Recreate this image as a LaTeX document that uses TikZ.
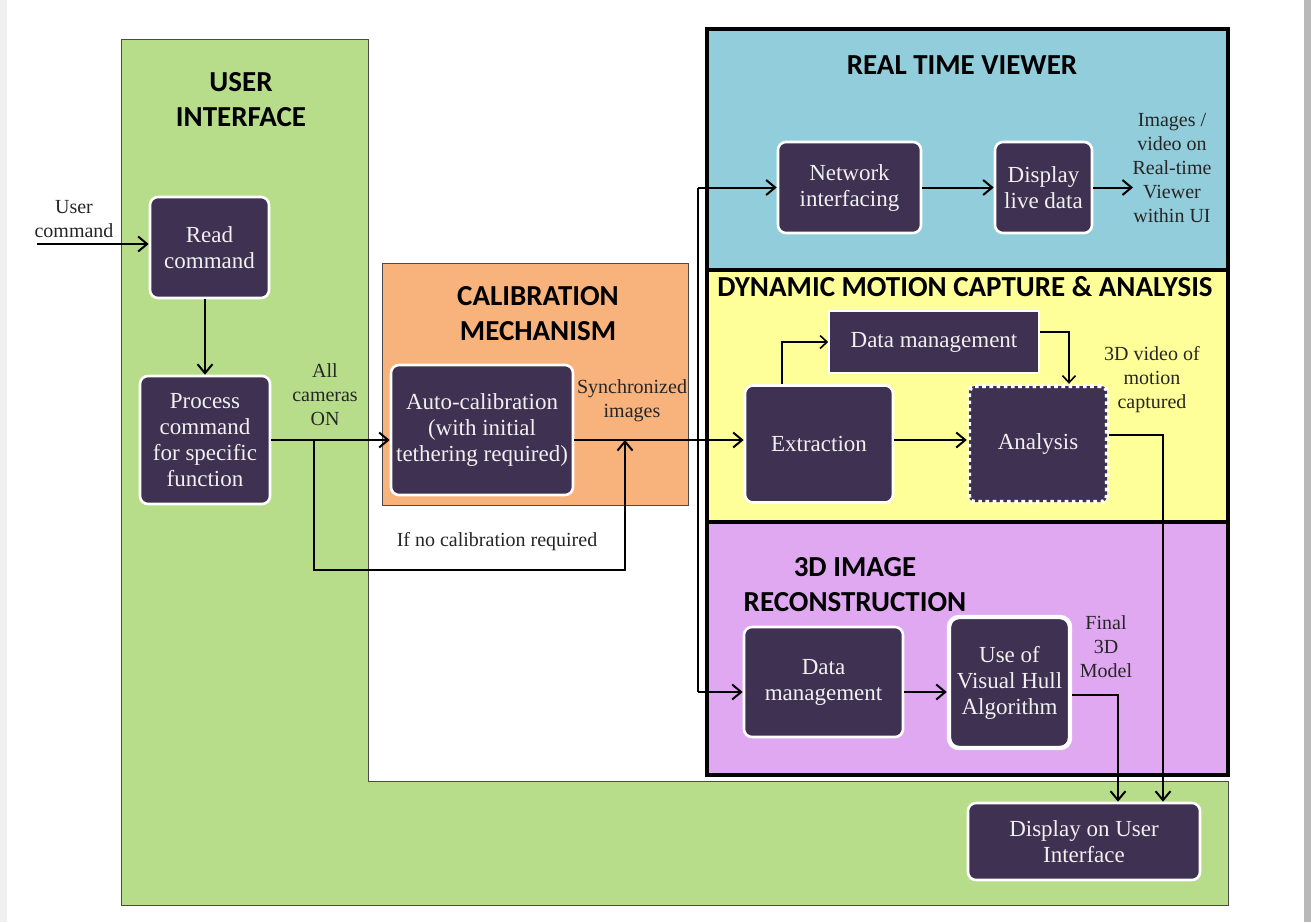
\documentclass[tikz,border=0pt]{standalone}
\usepackage{fontspec}
\setmainfont{Liberation Serif}
\newfontfamily\headfont{Carlito}
\usetikzlibrary{arrows.meta}

\definecolor{uigreen}{HTML}{B7DD8B}
\definecolor{rtblue}{HTML}{92CDDC}
\definecolor{calorange}{HTML}{F8B27C}
\definecolor{dmyellow}{HTML}{FFFF99}
\definecolor{recpurple}{HTML}{E0A8F1}
\definecolor{boxdark}{HTML}{3F3151}
\definecolor{edgegray}{HTML}{4A4A4A}

\begin{document}
\begin{tikzpicture}[x=0.5pt,y=-0.5pt,
  box/.style={draw=white, line width=1.3pt, fill=boxdark, rounded corners=4pt,
    text=white!94!black, font=\fontsize{11.5}{13}\selectfont, align=center, inner sep=0pt},
  lbl/.style={text=black!85, font=\fontsize{10}{12}\selectfont, align=center, inner sep=0pt},
  ttl/.style={font=\headfont\bfseries\fontsize{14.5}{17.5}\selectfont, align=center, inner sep=0pt},
  wire/.style={line width=1pt},
  arr/.style={line width=1pt, -{Straight Barb[length=4.5pt,width=7.5pt]}},
  arrthin/.style={line width=0.8pt, -{Straight Barb[length=3.5pt,width=6.5pt]}}]

\useasboundingbox (0,0) rectangle (1311,922);
\fill[white] (0,0) rectangle (1311,922);
\fill[gray!12] (0,0) rectangle (7,922);
\fill[gray!55] (1304,0) rectangle (1311,922);

% user interface area (L-shaped)
\draw[edgegray, line width=0.5pt, fill=uigreen]
  (121,39) -- (368,39) -- (368,781) -- (1228,781) -- (1228,905) -- (121,905) -- cycle;

% calibration area
\draw[edgegray, line width=0.5pt, fill=calorange] (382,263) rectangle (688,505);

% stacked processing areas
\fill[rtblue] (707,29) rectangle (1228,270);
\fill[dmyellow] (707,270) rectangle (1228,522);
\fill[recpurple] (707,522) rectangle (1228,775);
\draw[line width=1.6pt] (707,29) rectangle (1228,775);
\draw[line width=1.6pt] (707,270) -- (1228,270);
\draw[line width=1.6pt] (707,522) -- (1228,522);

% section titles
\node[ttl] (tUI) at (241,100) {USER\\INTERFACE};
\node[ttl] (tCal) at (538,314) {CALIBRATION\\MECHANISM};
\node[ttl] (tRT) at (962,65) {REAL TIME VIEWER};
\node[ttl] (tDM) at (965,287) {DYNAMIC MOTION CAPTURE \& ANALYSIS};
\node[ttl] (tRec) at (855,585) {3D IMAGE\\RECONSTRUCTION};

% process boxes
\node[box, minimum width=59.5pt, minimum height=50.5pt] (read) at (209.5,247.5) {Read\\command};
\node[box, minimum width=65pt, minimum height=64pt] (proc) at (205,440) {Process\\command\\for specific\\function};
\node[box, minimum width=91pt, minimum height=65pt] (acal) at (482,430) {Auto-calibration\\(with initial\\tethering required)};
\node[box, minimum width=71.5pt, minimum height=45.5pt] (net) at (849.5,187.5) {Network\\interfacing};
\node[box, minimum width=48.5pt, minimum height=45.5pt] (live) at (1043.5,187.5) {Display\\live data};
\node[box, rounded corners=0pt, line width=0.8pt, minimum width=105pt, minimum height=31pt] (dm1) at (934,342) {Data management};
\node[box, minimum width=74pt, minimum height=58.5pt] (ext) at (819,444) {Extraction};
\node[box, rounded corners=3pt, line width=2.2pt, dash pattern=on 1.8pt off 1.8pt,
  minimum width=69pt, minimum height=58pt] (ana) at (1038,444) {Analysis};
\node[box, minimum width=79.5pt, minimum height=55pt] (dm2) at (823.5,682) {Data\\management};
\node[box, line width=2.2pt, rounded corners=5pt, minimum width=60.5pt, minimum height=65.5pt] (vh) at (1009.5,682.5) {Use of\\Visual Hull\\Algorithm};
\node[box, minimum width=116pt, minimum height=38.5pt] (dui) at (1084,841.5) {Display on User\\Interface};

% free labels
\node[lbl] (lUser) at (74,219) {User\\command};
\node[lbl] (lCam) at (325,395) {All\\cameras\\ON};
\node[lbl] (lSync) at (632,401) {Synchronized\\images};
\node[lbl] (lNoCal) at (497,542) {If no calibration required};
\node[lbl] (lView) at (1172,168) {Images /\\video on\\Real-time\\Viewer\\within UI};
\node[lbl] (lVid) at (1152,380) {3D video of\\motion\\captured};
\node[lbl] (lFin) at (1106,647) {Final\\3D\\Model};

% junction points
\coordinate (uin) at (37,244);
\coordinate (split) at (314,440);
\coordinate (loopA) at (314,570);
\coordinate (loopB) at (625,570);
\coordinate (merge) at (625,440);
\coordinate (bus) at (698,440);
\coordinate (busT) at (698,187.5);
\coordinate (busB) at (698,692);
\coordinate (rtout) at (1133,187.5);
\coordinate (extup) at (782,342);
\coordinate (dmturn) at (1069,332);
\coordinate (anturn) at (1163,435);
\coordinate (vhturn) at (1118,695);

% connectors
\draw[arr] (uin) -- (uin -| read.west);
\draw[arr] (read.south -| proc.north) -- (proc.north);
\draw[arr] (proc.east |- split) -- (acal.west |- split);
\draw[arr] (split) -- (loopA) -- (loopB) -- (merge);
\draw[wire] (acal.east |- bus) -- (bus);
\draw[wire] (busT) -- (busB);
\draw[arr] (busT) -- (net.west);
\draw[arr] (bus) -- (ext.west |- bus);
\draw[arr] (busB) -- (dm2.west |- busB);
\draw[arr] (net.east) -- (live.west);
\draw[arr] (live.east) -- (rtout);
\draw[arrthin] (ext.north -| extup) -- (extup) -- (dm1.west |- extup);
\draw[arrthin] (dm1.east |- dmturn) -- (dmturn) -- (ana.north -| dmturn);
\draw[arr] (ext.east |- bus) -- (ana.west |- bus);
\draw[arr] (ana.east |- anturn) -- (anturn) -- (dui.north -| anturn);
\draw[arr] (dm2.east |- busB) -- (vh.west |- busB);
\draw[arr] (vh.east |- vhturn) -- (vhturn) -- (dui.north -| vhturn);

\end{tikzpicture}
\end{document}
